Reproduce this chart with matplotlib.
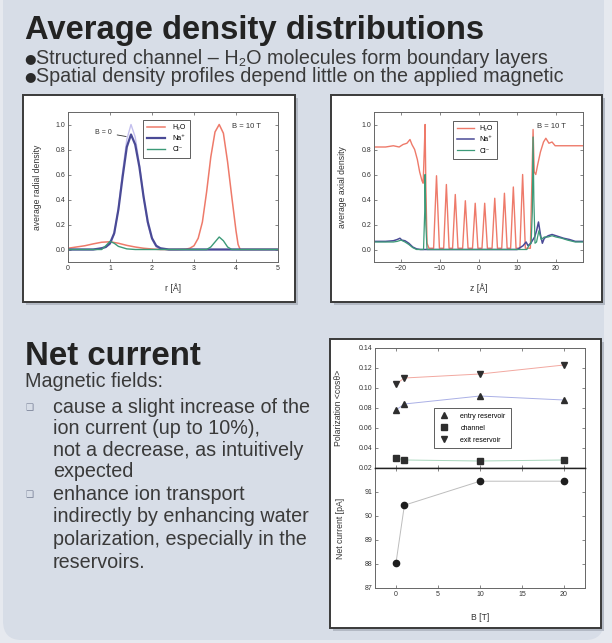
import matplotlib
matplotlib.use("Agg")
import matplotlib.pyplot as plt
from matplotlib.patches import Rectangle, FancyBboxPatch

plt.rcParams['font.family'] = ['Liberation Sans', 'DejaVu Sans']

# ---------------- data ----------------
# radial profiles (left panel)
h2o_r = [0.0, 0.2, 0.4, 0.6, 0.8, 1.0, 1.2, 1.4, 1.6, 1.8, 2.0, 2.2, 2.6, 2.8, 2.9, 3.0, 3.1, 3.2, 3.3,
         3.4, 3.5, 3.6, 3.7, 3.8, 3.9, 4.0, 4.05, 4.1, 4.5, 5.0]
h2o_v = [0.01, 0.02, 0.03, 0.045, 0.058, 0.062, 0.05, 0.033, 0.02, 0.01, 0.004, 0.0, 0.0, 0.002, 0.01, 0.03,
         0.09, 0.22, 0.46, 0.74, 0.94, 1.0, 0.93, 0.7, 0.42, 0.15, 0.04, 0.0, 0.0, 0.0]
na_r = [0.0, 0.6, 0.8, 0.9, 1.0, 1.1, 1.2, 1.3, 1.4, 1.5, 1.6, 1.7, 1.8, 1.9, 2.0, 2.1, 2.2, 2.4, 5.0]
na_v = [0.0, 0.0, 0.01, 0.02, 0.05, 0.13, 0.32, 0.58, 0.82, 0.92, 0.84, 0.66, 0.42, 0.22, 0.09, 0.03, 0.01, 0.0, 0.0]
na0_v = [0.0, 0.0, 0.01, 0.02, 0.04, 0.12, 0.33, 0.62, 0.88, 1.0, 0.9, 0.68, 0.42, 0.2, 0.08, 0.02, 0.0, 0.0, 0.0]
cl_r = [0.0, 0.8, 0.9, 1.0, 1.1, 1.2, 1.4, 1.6, 3.3, 3.4, 3.5, 3.6, 3.7, 3.8, 3.9, 5.0]
cl_v = [0.0, 0.0, 0.03, 0.065, 0.05, 0.025, 0.005, 0.0, 0.0, 0.02, 0.06, 0.1, 0.07, 0.02, 0.0, 0.0]

# axial profiles (right panel)
h2o_z = [-27, -24, -22, -20.5, -19.5, -18.5, -17.7, -17.2, -16.5, -15.8, -15.2, -14.6, -14.3, -14.0, -13.8,
         -13.6, -13.3, -12.8,
         -11.6, -10.85, -10.1, -9.0, -8.3, -7.6, -6.7, -6.0, -5.3, -4.1, -3.4, -2.7, -1.55, -0.85, -0.15,
         0.9, 1.6, 2.3, 3.5, 4.2, 4.9, 6.0, 6.7, 7.4, 8.3, 9.0, 9.7, 10.7, 11.4, 12.1, 13.4, 14.1,
         14.4, 14.8, 15.3, 16.0, 16.8, 17.4, 18.2, 19.0, 19.8, 21, 24, 27]
h2o_zv = [0.82, 0.82, 0.83, 0.82, 0.84, 0.85, 0.88, 0.84, 0.8, 0.72, 0.62, 0.55, 0.53, 0.8, 1.0,
          0.5, 0.05, 0.01,
          0.01, 0.59, 0.01, 0.01, 0.52, 0.01, 0.01, 0.44, 0.01, 0.01, 0.39, 0.01, 0.01, 0.37, 0.01,
          0.01, 0.37, 0.01, 0.01, 0.41, 0.01, 0.01, 0.45, 0.01, 0.01, 0.5, 0.01, 0.01, 0.6, 0.01, 0.01, 0.96,
          0.62, 0.6, 0.68, 0.78, 0.86, 0.89, 0.85, 0.86, 0.83, 0.83, 0.83, 0.83]
na_z = [-27, -24, -22, -21, -20.3, -19.8, -19, -18, -17, -16, -15, 10, 10.5, 11.5, 12.3, 12.8, 13.5, 14.5,
        15.0, 15.5, 16.0, 16.5, 17.0, 18.0, 19.0, 20.0, 21.0, 22.0, 23.5, 25, 27]
na_zv = [0.065, 0.065, 0.07, 0.08, 0.09, 0.075, 0.07, 0.05, 0.02, 0.005, 0.0, 0.0, 0.01, 0.03, 0.06, 0.03,
         0.05, 0.1, 0.15, 0.22, 0.12, 0.05, 0.09, 0.11, 0.12, 0.11, 0.1, 0.09, 0.08, 0.065, 0.065]
cl_z = [-27, -24, -22, -21, -20, -19, -18, -17, -16, -14.2, -13.9, -13.8, -13.6, -13.3, 12.5, 13.0, 13.6,
        13.9, 14.1, 14.3, 14.6, 15.0, 15.6, 16.2, 17, 18, 19, 20, 21.5, 23, 25, 27]
cl_zv = [0.06, 0.06, 0.06, 0.065, 0.075, 0.06, 0.04, 0.015, 0.0, 0.0, 0.3, 0.6, 0.2, 0.0, 0.0, 0.03, 0.05,
         0.3, 0.9, 0.4, 0.05, 0.06, 0.15, 0.08, 0.1, 0.1, 0.11, 0.1, 0.09, 0.075, 0.06, 0.06]

# net current panel
B_vals = [0, 1, 10, 20]
pol_entry = [0.078, 0.084, 0.092, 0.088]
pol_channel = [0.030, 0.028, 0.027, 0.028]
pol_exit = [0.104, 0.110, 0.114, 0.123]
net_current = [88.05, 90.45, 91.45, 91.45]

density_labels = ['H\u2082O', 'Na\u207a', 'Cl\u207b']
pol_labels = ['entry reservoir', 'channel', 'exit reservoir']

# ---------------- layout helpers ----------------
W, H = 612, 643
fig = plt.figure(figsize=(W / 100, H / 100), dpi=100)
fig.patch.set_facecolor('#e6e9ef')


def fx(x):
    return x / W


def fy(y):
    return 1 - y / H


def rect(x0, y0, x1, y1):
    return [fx(x0), fy(y1), (x1 - x0) / W, (y1 - y0) / H]


panel = FancyBboxPatch((fx(3), fy(640)), (604 - 3) / W, (640 + 40) / H,
                       boxstyle="round,pad=0,rounding_size=0.03", transform=fig.transFigure,
                       facecolor='#d7dde7', edgecolor='none', zorder=-5)
fig.add_artist(panel)


def add_box(x0, y0, x1, y1):
    sh = Rectangle((fx(x0 + 3), fy(y1 + 3)), (x1 - x0) / W, (y1 - y0) / H, transform=fig.transFigure,
                   facecolor='#b3b9c4', edgecolor='none', zorder=-3)
    bx = Rectangle((fx(x0), fy(y1)), (x1 - x0) / W, (y1 - y0) / H, transform=fig.transFigure,
                   facecolor='white', edgecolor='#3a3a3a', lw=1.4, zorder=-2)
    fig.add_artist(sh)
    fig.add_artist(bx)


add_box(23, 95, 295, 302)
add_box(331, 95, 602, 302)
add_box(330, 339, 601, 628)

TXT = '#3a3a3a'
fig.text(fx(25), fy(39), 'Average density distributions', fontsize=23.6, fontweight='bold',
         color='#232323', va='baseline')
for yb, s in [(64.5, 'Structured channel \u2013 H\u2082O molecules form boundary layers'),
              (82, 'Spatial density profiles depend little on the applied magnetic')]:
    fig.text(fx(24.5), fy(yb - 5.5), '\u25cf', fontsize=9.5, color='#2a2a2a', va='center',
             family=['DejaVu Sans'])
    fig.text(fx(35.5), fy(yb), s, fontsize=14.2, color=TXT, va='baseline')

fig.text(fx(25), fy(365), 'Net current', fontsize=23.8, fontweight='bold', color='#232323', va='baseline')
fig.text(fx(25), fy(387), 'Magnetic fields:', fontsize=14.2, color=TXT, va='baseline')
body = [(413, 'cause a slight increase of the', True),
        (433.5, 'ion current (up to 10%),', False),
        (455.5, 'not a decrease, as intuitively', False),
        (477, 'expected', False),
        (500, 'enhance ion transport', True),
        (522.5, 'indirectly by enhancing water', False),
        (545, 'polarization, especially in the', False),
        (567.5, 'reservoirs.', False)]
for yb, s, bullet in body:
    fig.text(fx(53), fy(yb), s, fontsize=14.2, color=TXT, va='baseline')
    if bullet:
        fig.text(fx(25), fy(yb - 3), '\u2751', fontsize=6.5, color='#7a8298', va='baseline',
                 family=['DejaVu Sans'])

TICK = 5
LAB = 6.2
C_H2O = '#ee7a6a'
C_NA = '#4a4a96'
C_NA0 = '#c4c0ee'
C_CL = '#3c9a78'


def style(ax):
    ax.tick_params(direction='in', top=True, right=True, labelsize=TICK, length=2.5, width=0.5,
                   colors='#555555', labelcolor='#333333', pad=2)
    for s in ax.spines.values():
        s.set_color('#666666')
        s.set_linewidth(0.7)


# ---- top-left: radial density ----
ax1 = fig.add_axes(rect(68, 112, 278, 262))
ax1.plot(na_r, na0_v, color=C_NA0, lw=1.0)
ax1.plot(h2o_r, h2o_v, color=C_H2O, lw=1.1, label=density_labels[0])
ax1.plot(na_r, na_v, color=C_NA, lw=1.6, label=density_labels[1])
ax1.plot(cl_r, cl_v, color=C_CL, lw=1.0, label=density_labels[2])
ax1.set_xlim(0, 5)
ax1.set_ylim(-0.1, 1.1)
ax1.set_xticks([0, 1, 2, 3, 4, 5])
ax1.set_yticks([0.0, 0.2, 0.4, 0.6, 0.8, 1.0])
ax1.set_yticklabels(['%.1f' % v for v in [0.0, 0.2, 0.4, 0.6, 0.8, 1.0]])
style(ax1)
ax1.set_xlabel('r [\u00c5]', fontsize=LAB, color='#333333')
ax1.xaxis.set_label_coords(0.5, -0.14)
ax1.set_ylabel('average radial density', fontsize=LAB, color='#333333')
ax1.yaxis.set_label_coords(-0.124, 0.5)
leg = ax1.legend(loc='upper left', bbox_to_anchor=(0.357, 0.947), borderaxespad=0, fontsize=5,
                 fancybox=False, edgecolor='#444444', handlelength=2.6, labelspacing=0.6,
                 borderpad=0.6, handletextpad=1.0, framealpha=1)
leg.get_frame().set_linewidth(0.6)
ax1.text(0.78, 0.9, 'B = 10 T', transform=ax1.transAxes, fontsize=5.5, color='#333333', va='center')
ax1.annotate('B = 0', xy=(1.45, 0.9), xytext=(0.64, 0.936), fontsize=5, color='#333333', va='center',
             arrowprops=dict(arrowstyle='-', color='#333333', lw=0.6))

# ---- top-right: axial density ----
ax2 = fig.add_axes(rect(374, 112, 583, 262))
ax2.plot(h2o_z, h2o_zv, color=C_H2O, lw=1.0, label=density_labels[0])
ax2.plot(na_z, na_zv, color=C_NA, lw=1.1, label=density_labels[1])
ax2.plot(cl_z, cl_zv, color=C_CL, lw=0.9, label=density_labels[2])
ax2.set_xlim(-27, 27)
ax2.set_ylim(-0.1, 1.1)
ax2.set_xticks([-20, -10, 0, 10, 20])
ax2.set_yticks([0.0, 0.2, 0.4, 0.6, 0.8, 1.0])
ax2.set_yticklabels(['%.1f' % v for v in [0.0, 0.2, 0.4, 0.6, 0.8, 1.0]])
style(ax2)
ax2.set_xlabel('z [\u00c5]', fontsize=LAB, color='#333333')
ax2.xaxis.set_label_coords(0.5, -0.14)
ax2.set_ylabel('average axial density', fontsize=LAB, color='#333333')
ax2.yaxis.set_label_coords(-0.129, 0.5)
leg2 = ax2.legend(loc='upper left', bbox_to_anchor=(0.378, 0.94), borderaxespad=0, fontsize=5,
                  fancybox=False, edgecolor='#444444', handlelength=2.4, labelspacing=0.6,
                  borderpad=0.6, handletextpad=0.8, framealpha=1)
leg2.get_frame().set_linewidth(0.6)
ax2.text(0.78, 0.9, 'B = 10 T', transform=ax2.transAxes, fontsize=5.5, color='#333333', va='center')

# ---- bottom-right: polarization and net current ----
ax3 = fig.add_axes(rect(375, 348, 585, 468))
ax4 = fig.add_axes(rect(375, 468, 585, 588), sharex=ax3)
pol_series = [pol_entry, pol_channel, pol_exit]
pol_markers = ['^', 's', 'v']
pol_line_colors = ['#aab0e6', '#a8d6bc', '#f2a8a0']
for vals, mk, lc, lab in zip(pol_series, pol_markers, pol_line_colors, pol_labels):
    ax3.plot(B_vals, vals, color=lc, lw=0.7)
    ax3.plot(B_vals, vals, linestyle='none', marker=mk, markersize=4, color='#2e2e2e', label=lab)
ax3.set_ylim(0.02, 0.14)
ax3.set_xlim(-2.5, 22.5)
yt3 = [0.02, 0.04, 0.06, 0.08, 0.10, 0.12, 0.14]
ax3.set_yticks(yt3)
ax3.set_yticklabels(['%.2f' % v for v in yt3])
style(ax3)
ax3.tick_params(labelbottom=False)
ax3.spines['bottom'].set_color('#222222')
ax3.spines['bottom'].set_linewidth(1.0)
ax3.set_ylabel('Polarization <cos\u03b8>', fontsize=LAB, color='#333333')
ax3.yaxis.set_label_coords(-(375 - 343) / 210, 0.5)
leg3 = ax3.legend(loc='upper left', bbox_to_anchor=(0.281, 0.5), borderaxespad=0, fontsize=5,
                  fancybox=False, edgecolor='#444444', handlelength=1.5, labelspacing=0.7,
                  borderpad=0.7, handletextpad=1.6, framealpha=1)
leg3.get_frame().set_linewidth(0.6)

ax4.plot(B_vals, net_current, color='#bdbdbd', lw=0.7)
ax4.plot(B_vals, net_current, linestyle='none', marker='o', markersize=4.5, color='#1e1e1e')
ax4.set_ylim(87, 92)
ax4.set_yticks([87, 88, 89, 90, 91, 92])
ax4.set_yticklabels(['87', '88', '89', '90', '91', ''])
ax4.set_xticks([0, 5, 10, 15, 20])
style(ax4)
ax4.spines['top'].set_color('#222222')
ax4.spines['top'].set_linewidth(1.0)
ax4.set_xlabel('B [T]', fontsize=LAB, color='#333333')
ax4.xaxis.set_label_coords(0.5, -0.21)
ax4.set_ylabel('Net current [pA]', fontsize=LAB, color='#333333')
ax4.yaxis.set_label_coords(-(375 - 345) / 210, 0.5)

fig.savefig('out.png', dpi=100, facecolor=fig.get_facecolor())
